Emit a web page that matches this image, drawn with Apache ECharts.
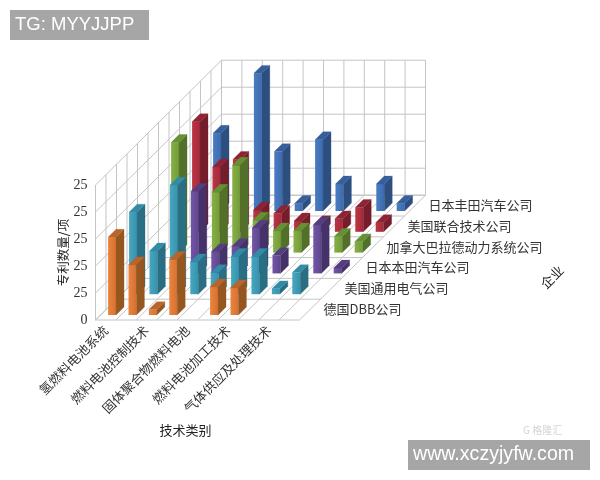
<!DOCTYPE html>
<html><head><meta charset="utf-8">
<style>html,body{margin:0;padding:0;background:#fff}#c{width:600px;height:480px}</style>
<script src="https://cdn.jsdelivr.net/npm/echarts@6/dist/echarts.min.js"></script>
</head><body><div id="c"></div>
<script>
// categories (Excel skipped every other column label)
const techLabels = ['氢燃料电池系统','','燃料电池控制技术','','固体聚合物燃料电池','','燃料电池加工技术','','气体供应及处理技术',''];
const companies = ['德国DBB公司','美国通用电气公司','日本本田汽车公司','加拿大巴拉德动力系统公司','美国联合技术公司','日本丰田汽车公司'];
const yTickLabels = ['0','25','25','25','25','25'];
// values per column
const dbb    = [14.4, 9.3, 1, 10.3, 0, 5.2, 5, 0, 0, 0];
const ge     = [15.2, 8, 20.2, 6, 4, 7, 7, 1, 4, 0];
const honda  = [0, 0, 15.2, 4, 5, 8.4, 3.3, 0, 9, 1];
const ballard= [20.4, 0, 11.2, 16.2, 6, 4, 4, 0, 3, 2];
const utc    = [20.4, 12, 13.4, 4, 3.4, 2, 1.5, 2.4, 4.5, 1.7];
const toyota = [14.4, 0, 25.5, 11, 1.4, 13.2, 5, 0, 5, 1.4];
const rows = [dbb, ge, honda, ballard, utc, toyota];
// face colours: front-light, front-dark, side, top
const faces = [
  ['#E8853F','#D9702F','#96561F','#B8642A'],
  ['#46A6C0','#3793AD','#2A6E84','#328CA6'],
  ['#7355A6','#60468F','#443268','#553E80'],
  ['#86B046','#739C38','#52702A','#659033'],
  ['#BC3444','#A52A3B','#761D2B','#8E2433'],
  ['#4A7CC2','#3D6BAE','#2D4F80','#375F9B']
];
const COL_PAD = 0.37, ROW_PAD = 0.24, BAR_W = 0.39, BAR_D = 0.38;
const DX = 21, DY = 20.8;
const GRID_LINE = '#C4C4C4';
const levels = [0,5,10,15,20,25];
const colLines = [0,1,2,3,4,5,6,7,8,9,10];
const rowLines = [0,1,2,3,4,5,6];
const sideLines = [0,0.5,1,1.5,2,2.5,3,3.5,4,4.5,5,5.5,6];

function P(api, c, r, v){
  const p = api.coord([c, v]);
  return [p[0] + r*DX, p[1] - r*DY];
}
function poly(points, fill){ return {type:'polygon', shape:{points}, style:{fill, stroke:fill, lineWidth:0.3}}; }
function seg(a,b){ return {type:'line', shape:{x1:a[0],y1:a[1],x2:b[0],y2:b[1]}, style:{stroke:GRID_LINE, lineWidth:1}}; }

function renderWalls(params, api){
  const ch = [];
  levels.forEach(v=>{
    ch.push(seg(P(api,0,0,v),P(api,0,6,v)));
    ch.push(seg(P(api,0,6,v),P(api,10,6,v)));
  });
  colLines.forEach(c=>{
    ch.push(seg(P(api,c,6,0),P(api,c,6,25)));
    ch.push(seg(P(api,c,0,0),P(api,c,6,0)));
  });
  sideLines.forEach(r=>ch.push(seg(P(api,0,r,0),P(api,0,r,25))));
  rowLines.forEach(r=>ch.push(seg(P(api,0,r,0),P(api,10,r,0))));
  return {type:'group', children:ch};
}
function renderBar(params, api){
  const c = api.value(0), v = api.value(1), r = api.value(2);
  if(!v) return null;
  const f = faces[r];
  const x0=c+COL_PAD, x1=x0+BAR_W, y0=r+ROW_PAD, y1=y0+BAR_D;
  const a=P(api,x0,y0,0), b=P(api,x1,y0,0), e=P(api,x1,y1,0);
  const at=P(api,x0,y0,v), bt=P(api,x1,y0,v), et=P(api,x1,y1,v), dt=P(api,x0,y1,v);
  return {type:'group', children:[
    {type:'polygon', shape:{points:[a,b,bt,at]}, style:{
      fill:{type:'linear',x:0,y:0,x2:1,y2:0,colorStops:[{offset:0,color:f[0]},{offset:1,color:f[1]}]}}},
    poly([b,e,et,bt],f[2]),
    poly([at,bt,et,dt],f[3])
  ]};
}
function renderCompany(params, api){
  const r = api.value(0);
  const p = P(api,10,r+0.5,0);
  return {type:'text', style:{text:companies[r], x:p[0]+13.5, y:p[1]-0.5, fill:'#333',
    font:'13px "Noto Sans CJK SC"', textAlign:'left', textVerticalAlign:'middle'}};
}
const barSeries = rows.map((vals,r)=>({name:companies[r], v:vals, r})).reverse().map(o=>({
  type:'custom', name:o.name, xAxisIndex:0, yAxisIndex:0, clip:false, silent:true,
  renderItem:renderBar, encode:{x:0,y:1}, animation:false,
  data:o.v.map((v,c)=>[c,v,o.r])
}));
const chart = echarts.init(document.getElementById('c'),null,{renderer:'canvas'});
chart.setOption({
  animation:false,
  grid:{left:95.5,top:185,width:204,height:135},
  xAxis:[
    {type:'value',min:0,max:10,show:false},
    {type:'category',data:techLabels,position:'bottom',
     axisLine:{show:false},axisTick:{show:false},
     axisLabel:{interval:0,rotate:45,fontSize:13,color:'#333',margin:8,fontFamily:'"Noto Sans CJK SC"',
       overflow:'none'},
     name:'技术类别',nameLocation:'middle',nameGap:104,
     nameTextStyle:{fontSize:13,color:'#222',fontFamily:'"Noto Sans CJK SC"',padding:[0,24,0,0]}}
  ],
  yAxis:{type:'value',min:0,max:25,interval:5,
    axisLine:{show:false},axisTick:{show:false},splitLine:{show:false},
    axisLabel:{margin:8,fontSize:14,color:'#333',fontFamily:'"Liberation Serif"',
      formatter:(v)=>yTickLabels[v/5]},
    name:'专利数量/项',nameLocation:'middle',nameRotate:90,nameGap:26,
    nameTextStyle:{fontSize:12.5,color:'#222',fontFamily:'"Noto Sans CJK SC"'}},
  series:[
    {type:'custom',name:'walls',xAxisIndex:0,yAxisIndex:0,clip:false,silent:true,renderItem:renderWalls,data:[[0,0]],encode:{x:0,y:1}},
    ...barSeries,
    {type:'custom',name:'companies',xAxisIndex:0,yAxisIndex:0,clip:false,silent:true,renderItem:renderCompany,
     data:companies.map((_,r)=>[r,0]),encode:{x:0,y:1}}
  ],
  graphic:[
    {type:'rect',shape:{x:10,y:10,width:139,height:30},style:{fill:'#A6A6A6'}},
    {type:'text',style:{text:'TG: MYYJJPP',x:15,y:25,fill:'#fff',font:'18.5px "Liberation Sans"',textVerticalAlign:'middle'}},
    {type:'rect',shape:{x:408,y:440,width:182,height:30},style:{fill:'#A6A6A6'}},
    {type:'text',style:{text:'www.xczyjyfw.com',x:413,y:455,fill:'#fff',font:'19.6px "Liberation Sans"',textVerticalAlign:'middle'}},
    {type:'text',style:{text:'G 格隆汇',x:523,y:430,fill:'#D4D4D4',font:'10px "Noto Sans CJK SC"',textVerticalAlign:'middle'}},
    {type:'text',rotation:Math.PI/4,x:552,y:277,style:{text:'企业',x:0,y:0,fill:'#222',font:'13px "Noto Sans CJK SC"',textAlign:'center',textVerticalAlign:'middle'}}
  ]
});
</script></body></html>
